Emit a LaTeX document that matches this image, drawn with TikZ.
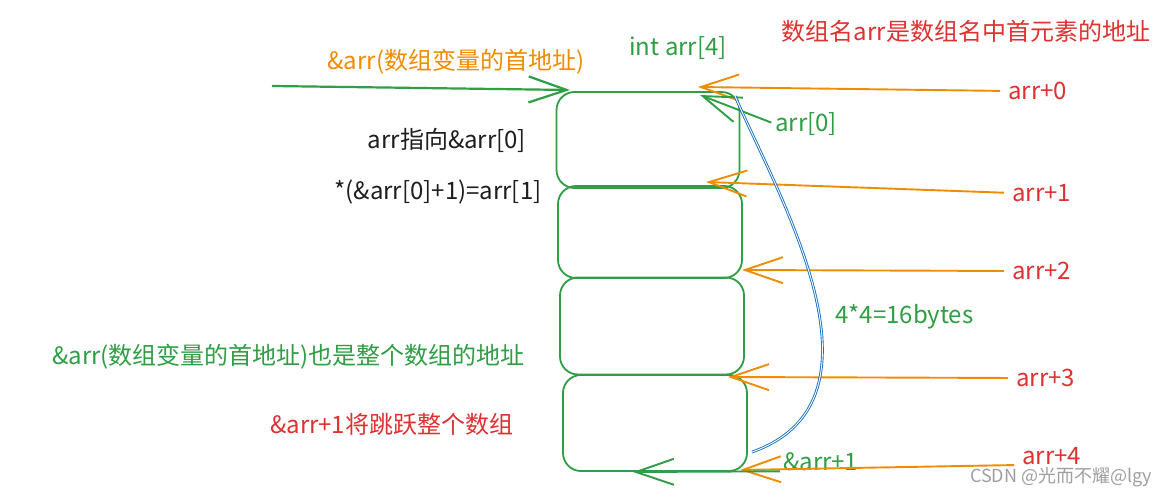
\documentclass[tikz,border=0pt]{standalone}
\usepackage{fontspec}
\newfontfamily\cjk{Noto Sans CJK SC}
\usetikzlibrary{arrows.meta}
\definecolor{xgreen}{HTML}{2F9E44}
\definecolor{xorange}{HTML}{F08C00}
\definecolor{xred}{HTML}{E03131}
\definecolor{xblue}{HTML}{1971C2}
\definecolor{xblack}{HTML}{1E1E1E}
\tikzset{
  cell/.style={draw=xgreen,line width=1.8pt,rounded corners=18pt,minimum width=184pt,inner sep=0pt},
  txt/.style={font=\cjk\fontsize{24}{28}\selectfont,inner sep=0pt},
  ptr/.style={-{Straight Barb[length=38pt,width=26pt]},line width=1.9pt},
}
\begin{document}
\begin{tikzpicture}[x=1pt,y=-1pt]
\useasboundingbox[fill=white] (0,0) rectangle (1175,492);
% the four cells of arr
\node[cell,minimum width=183pt,minimum height=96pt] (b1) at (648,140) {};
\node[cell,minimum height=92pt] (b2) at (650,232) {};
\node[cell,minimum height=97pt] (b3) at (652,326) {};
\node[cell,minimum height=96pt] (b4) at (655,423) {};
% texts
\node[txt,text=xred] (title) at (966,31) {数组名arr是数组名中首元素的地址};
\node[txt,text=xorange] (addr) at (456,62) {\&arr(数组变量的首地址)};
\node[txt,text=xgreen] (decl) at (678,48) {int arr[4]};
\node[txt,text=xblack] (p0) at (447,140) {arr指向\&arr[0]};
\node[txt,text=xblack] (p1) at (438,192) {*(\&arr[0]+1)=arr[1]};
\node[txt,text=xgreen,anchor=west] (whole) at (52,357) {\&arr(数组变量的首地址)也是整个数组的地址};
\node[txt,text=xred,anchor=west] (jump) at (270,424) {\&arr+1将跳跃整个数组};
\node[txt,text=xgreen,anchor=west] (e0) at (775,124) {arr[0]};
\node[txt,text=xgreen,anchor=west] (size) at (835,317) {4*4=16bytes};
\node[txt,text=xgreen,anchor=west] (e1) at (783,462) {\&arr+1};
\foreach \i/\x/\y in {0/1008/91,1/1012/193,2/1012/271,3/1016/378,4/1022/456}
  \node[txt,text=xred,anchor=west] (a\i) at (\x,\y) {arr+\i};
% arrow tips
\coordinate (t0) at (698,87);
\coordinate (t1) at (706,182);
\coordinate (t2) at (742,270);
\coordinate (t3) at (728,377);
\coordinate (t4) at (740,470);
\foreach \i/\an in {0/west,1/west,2/west,3/west,4/south west}
  \draw[ptr,draw=xorange,shorten <=8pt] (a\i.\an) -- (t\i);
%green pointers
\coordinate (s0) at (272,86);
\coordinate (t5) at (570,90);
\coordinate (t6) at (700,95);
\coordinate (t7) at (633,472);
\draw[ptr,draw=xgreen,line width=2.2pt] (s0) -- (t5);
\draw[ptr,draw=xgreen,shorten <=4pt] (e0.west) -- (t6);
\draw[ptr,draw=xgreen,shorten <=3pt] (e1.south west) -- (t7);
% size of the array
\draw[xblue,line width=0.9pt,double=white,double distance=0.9pt] (735,96) .. controls (775,190) and (900,400) .. (752,452);
\node[font=\cjk\fontsize{18}{20}\selectfont,text=gray!75,anchor=west,inner sep=0pt] (mark) at (970,477) {CSDN @光而不耀@lgy};
\end{tikzpicture}
\end{document}
